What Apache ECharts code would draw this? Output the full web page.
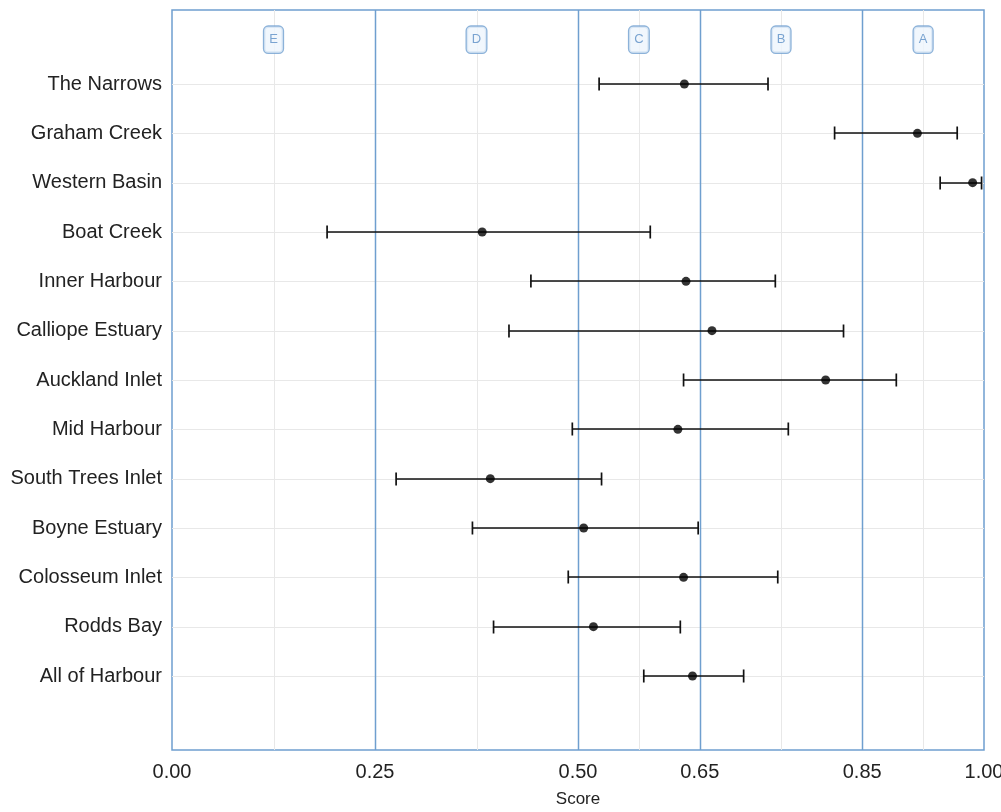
<!DOCTYPE html>
<html>
<head>
<meta charset="utf-8">
<script src="https://cdn.jsdelivr.net/npm/echarts@6/dist/echarts.min.js"></script>
<style>html,body{margin:0;padding:0;background:#fff;}#c{width:1001px;height:812px;}</style>
</head>
<body>
<div id="c"></div>
<script>
const sites = ['The Narrows','Graham Creek','Western Basin','Boat Creek','Inner Harbour','Calliope Estuary','Auckland Inlet','Mid Harbour','South Trees Inlet','Boyne Estuary','Colosseum Inlet','Rodds Bay','All of Harbour'];
const scores = [0.631,0.918,0.986,0.382,0.633,0.665,0.805,0.623,0.392,0.507,0.630,0.519,0.641];
const lower  = [0.526,0.816,0.946,0.191,0.442,0.415,0.630,0.493,0.276,0.370,0.488,0.396,0.581];
const upper  = [0.734,0.967,0.997,0.589,0.743,0.827,0.892,0.759,0.529,0.648,0.746,0.626,0.704];
const gradeBreaks = [0.25,0.50,0.65,0.85];
const gradeLabels = ['E','D','C','B','A'];
const gradeMids = [0.125,0.375,0.575,0.75,0.925];
const xTicks = [0,0.25,0.5,0.65,0.85,1.0];

const blue = '#6f9fcf';
const cats = ['__top'].concat(sites).concat(['__bottom']);

function vLines(color, width){
  return (params, api) => {
    const cs = params.coordSys;
    const x = Math.round(api.coord([api.value(0), 0])[0]) + 0.5;
    return {type:'line', shape:{x1:x, y1:cs.y, x2:x, y2:cs.y+cs.height},
      style:{stroke:color, lineWidth:width}};
  };
}
function hLines(color, width){
  return (params, api) => {
    const cs = params.coordSys;
    const y = Math.round(api.coord([0, api.value(1)])[1]) + 0.5;
    return {type:'line', shape:{x1:cs.x, y1:y, x2:cs.x+cs.width, y2:y},
      style:{stroke:color, lineWidth:width}};
  };
}

const chart = echarts.init(document.getElementById('c'), null, {renderer:'canvas'});
chart.setOption({
  animation:false,
  grid:{left:172,right:17,top:10,bottom:62,containLabel:false,outerBoundsMode:'none',
    show:true,borderColor:blue,borderWidth:1.5,backgroundColor:'transparent'},
  xAxis:{
    type:'value',min:0,max:1,
    name:'Score',nameLocation:'middle',nameGap:41,
    nameTextStyle:{fontFamily:'Liberation Sans',fontSize:17,color:'#222'},
    axisLine:{show:false},axisTick:{show:false},splitLine:{show:false},
    axisLabel:{customValues:xTicks,fontFamily:'Liberation Sans',fontSize:20,color:'#222',margin:12,
      hideOverlap:false,formatter:v=>v.toFixed(2)}
  },
  yAxis:{
    type:'category',data:cats,inverse:true,
    axisLine:{show:false},axisTick:{show:false},splitLine:{show:false},
    axisLabel:{fontFamily:'Liberation Sans',fontSize:20,color:'#222',margin:10,interval:0,
      formatter:v=>v.startsWith('__')?'':v}
  },
  series:[
    {type:'custom',z:1,silent:true,clip:true,
      data:gradeMids.map(v=>[v,0]),renderItem:vLines('#e8e8e8',1)},
    {type:'custom',z:1,silent:true,clip:true,
      data:sites.map((s,i)=>[0,i+1]),renderItem:hLines('#e8e8e8',1)},
    {type:'custom',z:2,silent:true,clip:true,
      data:gradeBreaks.map(v=>[v,0]),renderItem:vLines(blue,1.5)},
    {type:'scatter',z:3,silent:true,symbolSize:0,
      data:gradeMids.map((v,i)=>({value:[v,0],name:gradeLabels[i]})),
      label:{show:true,position:'inside',offset:[0,5],formatter:p=>p.name,
        fontFamily:'Liberation Sans',fontSize:13,color:'#5b8ec6',lineHeight:14,
        backgroundColor:'#edf5fc',borderColor:blue,borderWidth:1.3,borderRadius:4,padding:[6,5]}},
    {type:'custom',z:4,silent:true,
      data:sites.map((s,i)=>[lower[i],upper[i],i+1]),
      renderItem:(params,api)=>{
        const a=api.coord([api.value(0),api.value(2)]);
        const b=api.coord([api.value(1),api.value(2)]);
        const y=Math.round(a[1]);
        const h=6.5;
        const st={stroke:'#111',lineWidth:1.7};
        return {type:'group',children:[
          {type:'line',shape:{x1:a[0],y1:y,x2:b[0],y2:y},style:st},
          {type:'line',shape:{x1:a[0],y1:y-h,x2:a[0],y2:y+h},style:st},
          {type:'line',shape:{x1:b[0],y1:y-h,x2:b[0],y2:y+h},style:st}
        ]};
      }},
    {type:'scatter',z:5,silent:true,symbol:'circle',symbolSize:9,
      itemStyle:{color:'#000'},
      data:sites.map((s,i)=>[scores[i],i+1])}
  ]
});
</script>
</body>
</html>
